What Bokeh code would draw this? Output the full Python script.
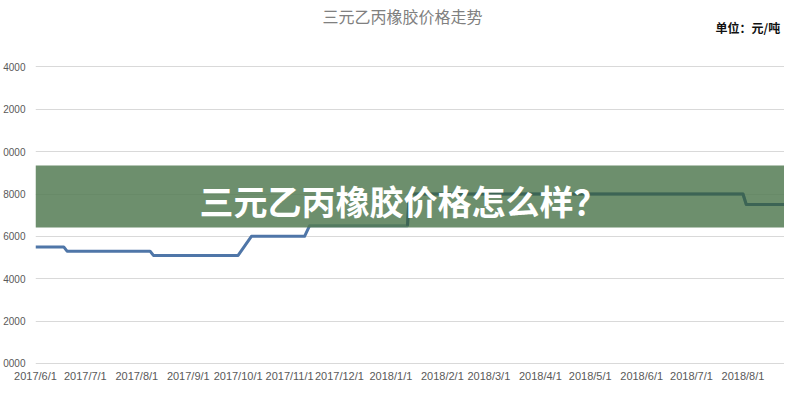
import pandas as pd
from bokeh.plotting import figure
from bokeh.models import Range1d, FixedTicker, Label, BoxAnnotation
from bokeh.embed import file_html
from bokeh.resources import INLINE

# ---- data ----
dates = ["2017-06-01", "2017-06-18", "2017-06-20", "2017-08-09", "2017-08-11",
         "2017-10-01", "2017-10-09", "2017-11-10", "2017-11-13", "2018-01-11",
         "2018-01-12", "2018-08-01", "2018-08-03", "2018-08-31"]
prices = [15500, 15500, 15300, 15300, 15100,
          15100, 16000, 16000, 16500, 16500,
          18000, 18000, 17500, 17500]

x_ticks = ["2017-06-01", "2017-07-01", "2017-08-01", "2017-09-01", "2017-10-01",
           "2017-11-01", "2017-12-01", "2018-01-01", "2018-02-01", "2018-03-01",
           "2018-04-01", "2018-05-01", "2018-06-01", "2018-07-01", "2018-08-01"]
x_labels = ["2017/6/1", "2017/7/1", "2017/8/1", "2017/9/1", "2017/10/1",
            "2017/11/1", "2017/12/1", "2018/1/1", "2018/2/1", "2018/3/1",
            "2018/4/1", "2018/5/1", "2018/6/1", "2018/7/1", "2018/8/1"]
y_ticks = [10000, 12000, 14000, 16000, 18000, 20000, 22000, 24000]
y_labels = ["0000", "2000", "4000", "6000", "8000", "0000", "2000", "4000"]

title_text = "三元乙丙橡胶价格走势"
unit_text = "单位：元/吨"
banner_text = "三元乙丙橡胶价格怎么样？"


def to_ms(s):
    return int((pd.Timestamp(s) - pd.Timestamp("1970-01-01")) // pd.Timedelta(milliseconds=1))


x_dt = pd.to_datetime(dates)
tick_ms = [to_ms(s) for s in x_ticks]

p = figure(width=784, height=384, x_axis_type="datetime", title=None,
           x_range=Range1d(to_ms("2017-06-01"), to_ms("2018-08-26")),
           y_range=Range1d(9900, 27140),
           output_backend="svg", toolbar_location=None,
           min_border_top=0, min_border_left=0, min_border_right=0, min_border_bottom=0)
p.outline_line_color = None
p.background_fill_color = "white"
p.border_fill_color = "white"

p.line(x_dt, prices, line_color="#4f76a8", line_width=3, line_join="round")

# axes
p.xaxis.ticker = FixedTicker(ticks=tick_ms)
p.xaxis.major_label_overrides = {t: l for t, l in zip(tick_ms, x_labels)}
p.yaxis.ticker = FixedTicker(ticks=y_ticks)
p.yaxis.major_label_overrides = {t: l for t, l in zip(y_ticks, y_labels)}
for ax in (p.xaxis[0], p.yaxis[0]):
    ax.axis_line_color = None
    ax.major_tick_line_color = None
    ax.minor_tick_line_color = None
    ax.major_tick_out = 0
    ax.major_tick_in = 0
    ax.minor_tick_out = 0
    ax.minor_tick_in = 0
    ax.major_label_text_font = "Liberation Sans"
    ax.major_label_text_color = "#595959"
p.xaxis.major_label_text_font_size = "11px"
p.yaxis.major_label_text_font_size = "10px"
p.xaxis.major_label_standoff = 4
p.yaxis.major_label_standoff = 10

p.xgrid.grid_line_color = None
p.ygrid.ticker = FixedTicker(ticks=y_ticks)
p.ygrid.grid_line_color = "#d9d9d9"
p.ygrid.grid_line_width = 1

# title and unit (screen units, measured from the frame's bottom-left)
p.add_layout(Label(x=367, y=350, x_units="screen", y_units="screen", text=title_text,
                   text_align="center", text_baseline="middle",
                   text_font="Noto Sans CJK SC", text_font_size="16px",
                   text_color="#808080"))
p.add_layout(Label(x=680, y=338, x_units="screen", y_units="screen", text=unit_text,
                   text_align="left", text_baseline="middle",
                   text_font="Noto Sans CJK SC", text_font_size="12px",
                   text_font_style="bold", text_color="#111111"))

# banner overlay: band, the part of the line seen through it, then the text
p.add_layout(BoxAnnotation(bottom=138, top=200, bottom_units="screen", top_units="screen",
                           fill_color="#547b54", fill_alpha=0.85, line_color=None))
p.line(x_dt[9:], prices[9:], line_color="#3c6455", line_width=3, line_join="round",
       level="overlay")
p.add_layout(Label(x=368, y=165, x_units="screen", y_units="screen", text=banner_text,
                   text_align="center", text_baseline="middle",
                   text_font="Noto Sans CJK SC", text_font_size="34px",
                   text_font_style="bold", text_color="white", level="overlay"))

open("out.html", "w").write(file_html(p, INLINE))
